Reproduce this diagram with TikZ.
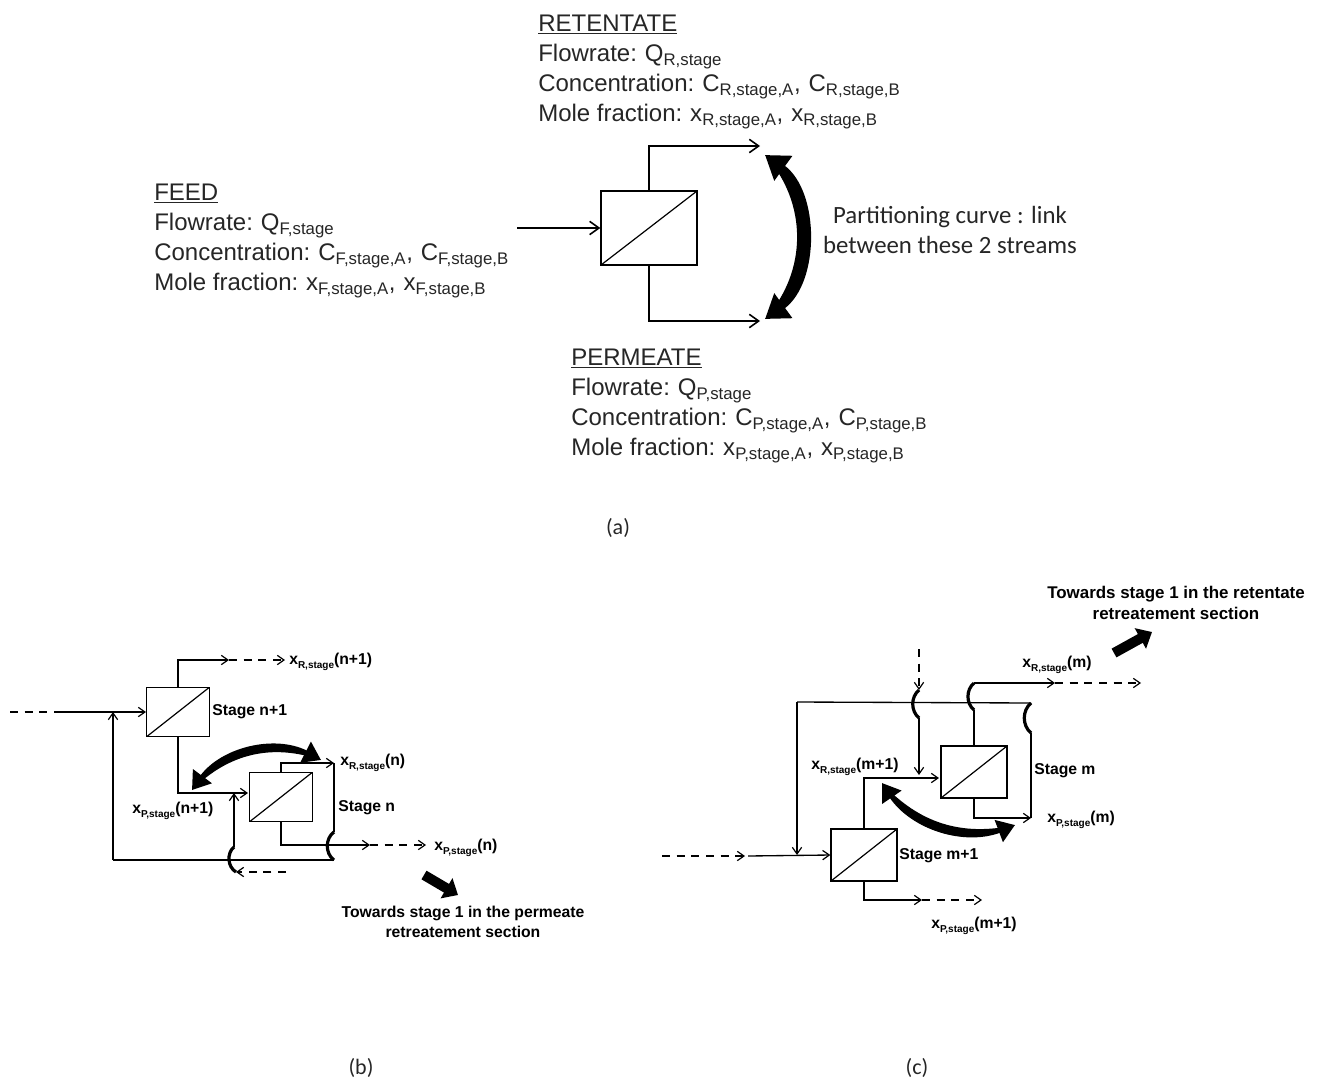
\documentclass[tikz,border=0pt]{standalone}
\usepackage{fontspec}
\setmainfont{Liberation Sans}
\newfontfamily\calfont{Carlito}
\usetikzlibrary{arrows.meta}
\newcommand{\xlab}[2]{x\raisebox{-0.25em}{\fontsize{7.5}{9}\selectfont #1,stage}(#2)}
\newcommand{\gapsp}{\hskip 0.33em\relax}
\newcommand{\streamtext}[2]{\underline{#1}\\
  Flowrate:\gapsp Q\textsubscript{#2,stage}\\
  Concentration:\gapsp C\textsubscript{#2,stage,A},\gapsp C\textsubscript{#2,stage,B}\\
  Mole fraction:\gapsp x\textsubscript{#2,stage,A},\gapsp x\textsubscript{#2,stage,B}}
\tikzset{
  stagebox/.style={draw, rectangle, inner sep=0pt, line width=1pt,
    path picture={\draw[line width=0.9pt] (path picture bounding box.south west) -- (path picture bounding box.north east);}},
  flow/.style={line width=1pt, -{Straight Barb[length=5pt,width=7pt,line width=0.9pt]}},
  flowa/.style={line width=1.3pt, -{Straight Barb[length=7pt,width=10pt,line width=1.2pt]}},
  dashflow/.style={flow, dash pattern=on 6pt off 5pt},
  plainflow/.style={line width=1pt},
  jumpline/.style={line width=2.4pt},
  linkarrow/.style={line width=3pt, {Triangle[length=13pt,width=17pt]}-{Triangle[length=13pt,width=17pt]}},
  linkarrowa/.style={line width=4.5pt, {Triangle[length=17pt,width=22pt]}-{Triangle[length=17pt,width=22pt]}},
  linkfill/.style={fill=black},
  towards/.style={line width=7.5pt, -{Triangle[length=10pt,width=17pt]}},
  infotext/.style={anchor=north west, align=left, inner sep=0pt, text=black!85,
    font=\fontsize{18}{22.5}\selectfont},
  smalltext/.style={inner sep=0pt, font=\bfseries\fontsize{11.8}{14.5}\selectfont},
  caltext/.style={inner sep=0pt, align=center, text=black!85, font=\calfont\fontsize{18.6}{22}\selectfont},
  captext/.style={inner sep=0pt, text=black!85, font=\calfont\fontsize{16.5}{20}\selectfont}
}
\begin{document}
\begin{tikzpicture}[x=0.75pt,y=-0.75pt]
  \useasboundingbox[fill=white] (0,0) rectangle (1323,1081);

  % (a) one stage
  \node[stagebox, minimum width=72pt, minimum height=55.5pt] (stagea) at (649,228) {};
  \coordinate (feeda) at (517,228);
  \coordinate (reta) at (760,146);
  \coordinate (pera) at (760,321);
  \coordinate (linka) at (765,155);
  \coordinate (linkb) at (765,319);
  \draw[flowa] (feeda) -- (stagea.west);
  \draw[flowa] (stagea.north) |- (reta);
  \draw[flowa] (stagea.south) |- (pera);
  \fill[linkfill] (linka) to[bend left=42] (linkb) to[bend right=62] (linka);
  \draw[linkarrowa] (linka) to[bend left=54] (linkb);
  \node[infotext] (rettext) at (538,15) {\streamtext{RETENTATE}{R}};
  \node[infotext] (feedtext) at (154,184) {\streamtext{FEED}{F}};
  \node[infotext] (pertext) at (571,349) {\streamtext{PERMEATE}{P}};
  \node[caltext] (curvetext) at (950,230) {Partitioning curve : link\\between these 2 streams};
  \node[captext] (capa) at (618,528) {(a)};

  % (b) stages n+1 and n
  \node[stagebox, minimum width=47pt, minimum height=37pt] (stageb1) at (178,712) {};
  \node[stagebox, minimum width=47pt, minimum height=37pt] (stageb2) at (281,797) {};
  \coordinate (b1in) at (57,712);
  \coordinate (b1dash) at (10,712);
  \coordinate (b1top) at (229,660);
  \coordinate (b1topd) at (285,660);
  \coordinate (b1low) at (248,793);
  \coordinate (b2top) at (334,763);
  \coordinate (b2jumpa) at (334,832);
  \coordinate (b2jumpb) at (334,860);
  \coordinate (b2out) at (370,845);
  \coordinate (b2outd) at (426,845);
  \coordinate (b2back) at (113,860);
  \coordinate (b1merge) at (113,712);
  \coordinate (b2merge) at (234,793);
  \coordinate (b2upa) at (234,847);
  \coordinate (b2upb) at (236,872);
  \coordinate (b2upd) at (286,872);
  \coordinate (blinka) at (192,790);
  \coordinate (blinkb) at (321,760);
  \draw[plainflow, dash pattern=on 6pt off 5pt] (b1dash) -- (b1in);
  \draw[flow] (b1in) -- (stageb1.west);
  \draw[flow] (stageb1.north) |- (b1top);
  \draw[dashflow] (b1top) -- (b1topd);
  \draw[flow] (stageb1.south) |- (b1low);
  \draw[flow] (stageb2.north) |- (b2top);
  \draw[plainflow] (b2top) -- (b2jumpa);
  \draw[jumpline] (b2jumpa) to[bend right=55] (b2jumpb);
  \draw[flow] (stageb2.south) |- (b2out);
  \draw[dashflow] (b2out) -- (b2outd);
  \draw[plainflow] (b2jumpb) -- (b2back);
  \draw[flow] (b2back) -- (b1merge);
  \draw[flow] (b2upa) -- (b2merge);
  \draw[jumpline] (b2upa) to[bend right=55] (b2upb);
  \draw[dashflow] (b2upd) -- (b2upb);
  \fill[linkfill] (blinka) to[bend left=32] (blinkb) to[bend right=48] (blinka);
  \draw[linkarrow] (blinka) to[bend left=40] (blinkb);
  \draw[towards] (424,875) -- (458,895);
  \node[smalltext, anchor=west] (labb1) at (289,662) {\xlab{R}{n+1}};
  \node[smalltext, anchor=west] (labb2) at (212,712) {Stage n+1};
  \node[smalltext, anchor=west] (labb3) at (340,763) {\xlab{R}{n}};
  \node[smalltext, anchor=west] (labb4) at (338,808) {Stage n};
  \node[smalltext, anchor=west] (labb5) at (132,811) {\xlab{P}{n+1}};
  \node[smalltext, anchor=west] (labb6) at (434,848) {\xlab{P}{n}};
  \node[smalltext, align=center] (labb7) at (463,922) {Towards stage 1 in the permeate\\retreatement section};
  \node[captext] (capb) at (361,1068) {(b)};

  % (c) stages m and m+1
  \node[stagebox, minimum width=49.5pt, minimum height=39pt] (stagec1) at (974,772) {};
  \node[stagebox, minimum width=49.5pt, minimum height=39pt] (stagec2) at (864,855) {};
  \coordinate (c2dash) at (662,856);
  \coordinate (c2in) at (745,856);
  \coordinate (c2sol) at (748,856);
  \coordinate (c1jumpa) at (974,710);
  \coordinate (c1jumpb) at (974,683);
  \coordinate (c1out) at (1055,683);
  \coordinate (c1outd) at (1141,683);
  \coordinate (c3dash) at (919,649);
  \coordinate (c3jumpa) at (919,690);
  \coordinate (c3jumpb) at (919,718);
  \coordinate (c3end) at (919,775);
  \coordinate (c2up) at (939,778);
  \coordinate (c1per) at (1031,818);
  \coordinate (c1right) at (1031,733);
  \coordinate (c1corner) at (1031,703);
  \coordinate (c1left) at (797,702);
  \coordinate (c1down) at (797,855);
  \coordinate (c2out) at (922,900);
  \coordinate (c2outd) at (982,900);
  \coordinate (clinka) at (882,783);
  \coordinate (clinkb) at (1015,825);
  \draw[dashflow] (c2dash) -- (c2in);
  \draw[flow] (c2sol) -- (stagec2.west);
  \draw[plainflow] (c1left) -- (c1corner);
  \draw[flow] (c1left) -- (c1down);
  \draw[plainflow] (stagec1.north) -- (c1jumpa);
  \draw[jumpline] (c1jumpa) to[bend left=50] (c1jumpb);
  \draw[flow] (c1jumpb) -- (c1out);
  \draw[dashflow] (c1out) -- (c1outd);
  \draw[dashflow] (c3dash) -- (c3jumpa);
  \draw[jumpline] (c3jumpa) to[bend right=50] (c3jumpb);
  \draw[flow] (c3jumpb) -- (c3end);
  \draw[flow] (stagec2.north) |- (c2up);
  \draw[flow] (stagec1.south) |- (c1per);
  \draw[plainflow] (c1right) -- (c1per);
  \draw[jumpline] (c1corner) to[bend right=50] (c1right);
  \draw[flow] (stagec2.south) |- (c2out);
  \draw[dashflow] (c2out) -- (c2outd);
  \fill[linkfill] (clinka) to[bend right=30] (clinkb) to[bend left=46] (clinka);
  \draw[linkarrow] (clinka) to[bend right=38] (clinkb);
  \draw[towards] (1114,653) -- (1152,632);
  \node[smalltext, align=center, font=\bfseries\fontsize{12.7}{15.5}\selectfont] (labc1) at (1176,603) {Towards stage 1 in the retentate\\retreatement section};
  \node[smalltext, anchor=west] (labc2) at (1022,665) {\xlab{R}{m}};
  \node[smalltext, anchor=west] (labc3) at (811,767) {\xlab{R}{m+1}};
  \node[smalltext, anchor=west] (labc4) at (1034,771) {Stage m};
  \node[smalltext, anchor=west] (labc5) at (1047,820) {\xlab{P}{m}};
  \node[smalltext, anchor=west] (labc6) at (899,856) {Stage m+1};
  \node[smalltext, anchor=west] (labc7) at (931,926) {\xlab{P}{m+1}};
  \node[captext] (capc) at (917,1068) {(c)};
\end{tikzpicture}
\end{document}
